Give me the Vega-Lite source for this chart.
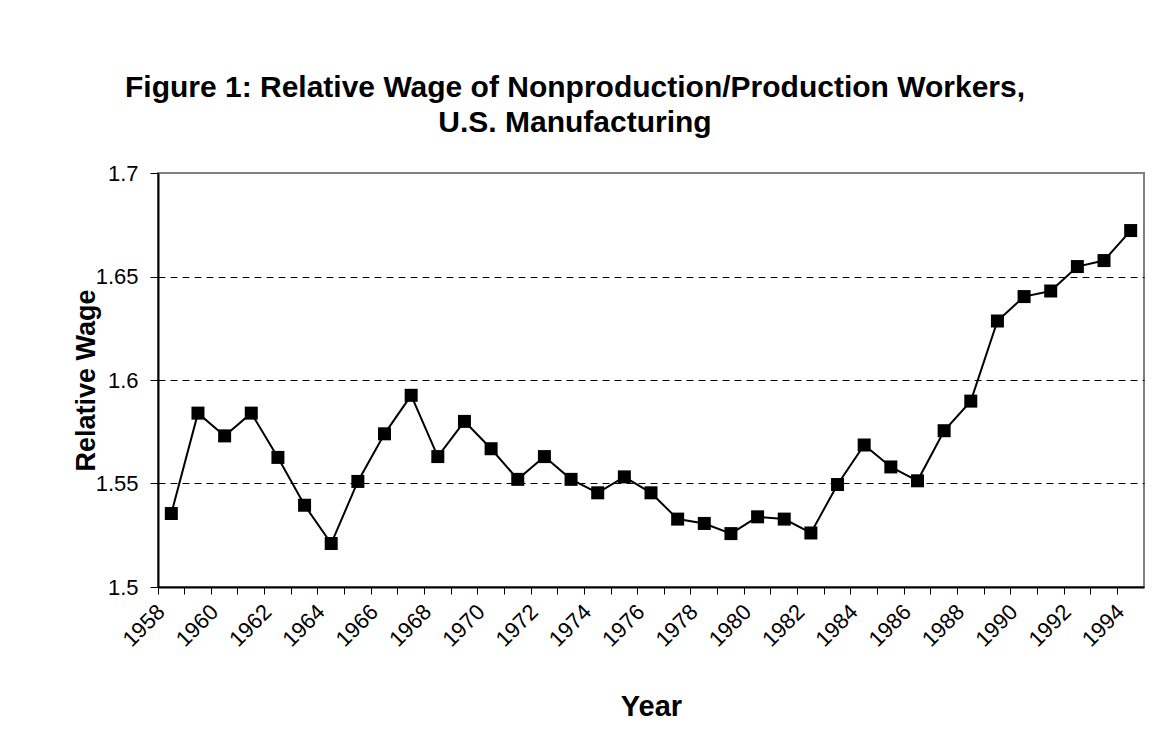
{
  "$schema": "https://vega.github.io/schema/vega-lite/v6.json",
  "autosize": {"type": "none"},
  "padding": {"left": 158, "top": 173, "right": 13, "bottom": 167},
  "width": 986,
  "height": 414,
  "background": "white",
  "title": {
    "text": ["Figure 1: Relative Wage of Nonproduction/Production Workers,", "U.S. Manufacturing"],
    "font": "Liberation Sans",
    "fontSize": 30,
    "fontWeight": "bold",
    "color": "black",
    "lineHeight": 35,
    "anchor": "middle",
    "frame": "group",
    "dx": -76,
    "offset": 24
  },
  "config": {
    "view": {"stroke": "#808080", "strokeWidth": 2},
    "axis": {"labelFont": "Liberation Sans", "titleFont": "Liberation Sans", "labelColor": "black", "titleColor": "black"}
  },
  "data": {
    "values": [
      {"year": 1958, "wage": 1.5355},
      {"year": 1959, "wage": 1.584},
      {"year": 1960, "wage": 1.573},
      {"year": 1961, "wage": 1.584},
      {"year": 1962, "wage": 1.5626},
      {"year": 1963, "wage": 1.5395},
      {"year": 1964, "wage": 1.521},
      {"year": 1965, "wage": 1.551},
      {"year": 1966, "wage": 1.574},
      {"year": 1967, "wage": 1.5926},
      {"year": 1968, "wage": 1.563},
      {"year": 1969, "wage": 1.580},
      {"year": 1970, "wage": 1.5668},
      {"year": 1971, "wage": 1.552},
      {"year": 1972, "wage": 1.563},
      {"year": 1973, "wage": 1.552},
      {"year": 1974, "wage": 1.5455},
      {"year": 1975, "wage": 1.5532},
      {"year": 1976, "wage": 1.5455},
      {"year": 1977, "wage": 1.5328},
      {"year": 1978, "wage": 1.5307},
      {"year": 1979, "wage": 1.5258},
      {"year": 1980, "wage": 1.5339},
      {"year": 1981, "wage": 1.5328},
      {"year": 1982, "wage": 1.5261},
      {"year": 1983, "wage": 1.5495},
      {"year": 1984, "wage": 1.5686},
      {"year": 1985, "wage": 1.558},
      {"year": 1986, "wage": 1.5513},
      {"year": 1987, "wage": 1.5755},
      {"year": 1988, "wage": 1.5898},
      {"year": 1989, "wage": 1.6285},
      {"year": 1990, "wage": 1.6403},
      {"year": 1991, "wage": 1.643},
      {"year": 1992, "wage": 1.6548},
      {"year": 1993, "wage": 1.6577},
      {"year": 1994, "wage": 1.6722}
    ]
  },
  "encoding": {
    "x": {
      "field": "year",
      "type": "ordinal",
      "scale": {"type": "band", "paddingInner": 0, "paddingOuter": 0},
      "axis": {
        "title": "Year",
        "titleFontSize": 29,
        "titleFontWeight": "bold",
        "titleBaseline": "alphabetic",
        "titleY": 128,
        "bandPosition": 0,
        "labelExpr": "datum.value % 2 == 0 ? datum.label : ''",
        "labelAngle": -45,
        "labelAlign": "right",
        "labelBaseline": "middle",
        "labelFontSize": 22,
        "labelPadding": 14,
        "labelOffset": -10,
        "labelOverlap": false,
        "labelFlush": false,
        "labelBound": false,
        "tickSize": 7,
        "tickColor": "black",
        "tickWidth": 1,
        "domainColor": "black",
        "domainWidth": 2,
        "grid": false
      }
    },
    "y": {
      "field": "wage",
      "type": "quantitative",
      "scale": {"domain": [1.5, 1.7], "nice": false, "zero": false},
      "axis": {
        "title": "Relative Wage",
        "titleFontSize": 27,
        "titleFontWeight": "bold",
        "titleBaseline": "alphabetic",
        "titleAngle": -90,
        "titleAlign": "center",
        "titleX": -64,
        "titleY": 207,
        "values": [1.5, 1.55, 1.6, 1.65, 1.7],
        "format": ".2~f",
        "labelFontSize": 22,
        "labelPadding": 12,
        "tickSize": 8,
        "tickColor": "black",
        "domainColor": "black",
        "domainWidth": 2,
        "grid": true,
        "gridColor": "black",
        "gridDash": [7, 5],
        "gridWidth": 1,
        "gridOpacity": {"condition": {"test": "datum.value > 1.51 && datum.value < 1.69", "value": 1}, "value": 0}
      }
    }
  },
  "layer": [
    {"mark": {"type": "line", "color": "black", "strokeWidth": 2}},
    {"mark": {"type": "point", "shape": "square", "filled": true, "color": "black", "opacity": 1, "size": 169}}
  ]
}
